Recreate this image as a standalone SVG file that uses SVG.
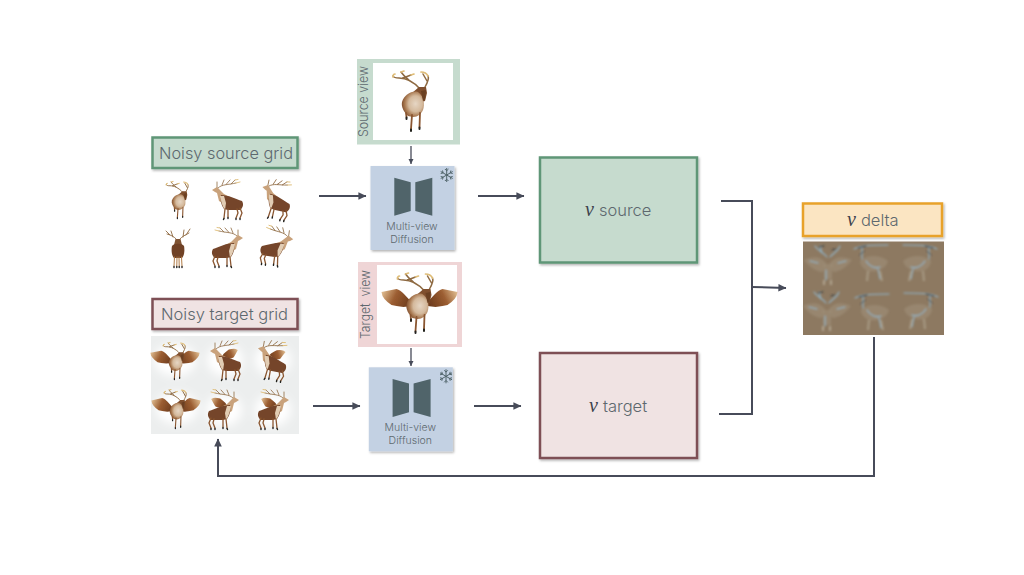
<svg xmlns="http://www.w3.org/2000/svg" width="1024" height="575" viewBox="0 0 1024 575">
<style>
text{font-family:Inter,"Liberation Sans",sans-serif;font-weight:300;fill:#5d686e}
.lbl{font-size:16.500px}
.small{font-size:10.500px;text-anchor:middle}
.side{font-size:13.500px;white-space:pre}
.v{font-family:"Liberation Serif","DejaVu Serif",serif;font-style:italic;font-weight:400;font-size:20px;fill:#3d424c}
.grn{fill:#c6dbce;stroke:#5f9677;stroke-width:2.500}
.pnk{fill:#f0e3e3;stroke:#7e5055;stroke-width:2.500}
.org{fill:#fbe5c2;stroke:#e8a22c;stroke-width:2.500}
.sh{filter:url(#shadow)}
.conn{fill:none;stroke:#474b59;stroke-width:2}
.thin{fill:none;stroke:#474b59;stroke-width:1.300}
.ant{fill:none;stroke:#8e6a42;stroke-width:1.500;stroke-linecap:round}
.tip{fill:none;stroke:#dfbd78;stroke-width:1.700;stroke-linecap:round}
.leg{fill:none;stroke:#8a5630;stroke-width:1.800;stroke-linecap:round}
.hoof{fill:none;stroke:#22201e;stroke-width:2;stroke-linecap:round}
.mv{fill:#c3d1e3}
.trap{fill:#50646a}
.flake{fill:none;stroke:#50646a;stroke-width:1}
.gh{fill:#a89a84;opacity:.4}
.gs{fill:none;stroke:#8fc0de;stroke-width:1.100;stroke-linecap:round;opacity:.85}
.gd{fill:none;stroke:#2a333c;stroke-width:1;stroke-linecap:round}
</style>
<defs>
<filter id="shadow" x="-10%" y="-10%" width="125%" height="125%"><feDropShadow dx="1.200" dy="1.500" stdDeviation="1" flood-color="#000" flood-opacity=".3"/></filter>
<filter id="soft" x="-10%" y="-10%" width="120%" height="120%"><feGaussianBlur stdDeviation=".35"/></filter>
<filter id="halo" x="-30%" y="-30%" width="160%" height="160%"><feGaussianBlur stdDeviation="5"/></filter>
<filter id="ghostblur" x="-10%" y="-10%" width="120%" height="120%"><feGaussianBlur stdDeviation=".9"/></filter>
<marker id="ah" markerWidth="5" markerHeight="5" refX="3.800" refY="1.900" orient="auto" markerUnits="strokeWidth"><path d="M0,0L4,1.900L0,3.800Z" fill="#474b59"/></marker>
<marker id="ahs" markerWidth="6" markerHeight="6" refX="4" refY="2" orient="auto" markerUnits="strokeWidth"><path d="M0,0L4,2L0,4Z" fill="#474b59"/></marker>
<linearGradient id="wingL" x1="1" y1=".6" x2="0" y2=".3"><stop offset="0" stop-color="#6f3d1f"/><stop offset=".55" stop-color="#9b5d31"/><stop offset="1" stop-color="#dcb88c"/></linearGradient>
<radialGradient id="bodyF" cx=".62" cy=".48" r=".62"><stop offset="0" stop-color="#e6d6c4"/><stop offset=".5" stop-color="#d4b99c"/><stop offset=".78" stop-color="#a97a52"/><stop offset="1" stop-color="#81502f"/></radialGradient>
<path id="wing" d="M0,0C-5,-5 -10,-12 -15,-13C-20,-12 -25,-11 -30,-10L-29,-6L-27,-3L-24,0L-20,3L-15,4L-8,5L0,4Z" fill="url(#wingL)"/>
<g id="hero">
<path class="ant" d="M45,26C38,18 30,15 24,15C21,15 19,15 18,13M34,17C30,14 28,12 26,9M28,15L36,12M50,24C54,17 54,15 53,13M52,18L48,11"/>
<path class="tip" d="M18,14C18,12 19,11 20,11M26,9L29,8M36,12L39,11M53,13C52,11 50,9 46,9"/>
<path d="M37,30L44,24L51,24L52,30L50,38L47,39L44,41L38,37Z" fill="#7f4f2e"/>
<path d="M27,39C29,32 37,27 43,29C49,33 50,41 48,47C46,51 43,54 38,54L33,53C29,49 26,44 27,39Z" fill="url(#bodyF)"/>
<path d="M46,28L51,27L50,37L48,38Z" fill="#6a3f23"/>
<path class="leg" d="M31,50L31.500,54M37,52L36,66M45,50L44.500,64"/>
<path class="hoof" d="M31.500,54.500V56M36,66.500V68M44.500,64.500V66"/>
</g>
<g id="front"><use href="#hero" transform="scale(.62) translate(-37,-38)"/></g>
<g id="back">
<path class="ant" style="stroke-width:.9" d="M-1,-8C-4,-12 -8,-13 -11,-14M-5,-11L-7,-17M-8,-13L-12,-17M1,-8C4,-12 8,-13 11,-15M5,-11L6,-18M8,-13L12,-19"/>
<path d="M-2.500,-9L2.500,-9L4,-3L-4,-3Z" fill="#7f5232"/>
<path d="M-6,-2C-4,-5 4,-5 6,-2C7,3 6,8 4,10L-4,10C-6,8 -7,3 -6,-2Z" fill="#6f4227"/>
<path class="leg" d="M-3.500,9L-4,18M-1,9L-1.200,18M1,9L1.200,18M3.500,9L4,18" style="stroke-width:1;stroke:#b07a45"/>
<path class="hoof" style="stroke-width:1.400" d="M-4,18.400L-4,19.600M-1.200,18.400V19.600M1.200,18.400V19.600M4,18.400L4,19.600"/>
</g>
<g id="side">
<path class="ant" d="M-10,-12C-6,-16 0,-15 8,-17M-6,-15L-4,-20M-2,-15.500L2,-20M3,-16L7,-20M-11,-12L-11,-18" style="stroke-width:.8"/>
<path class="tip" d="M8,-17L12,-18M7,-20L10,-20.500" style="stroke-width:.9"/>
<path d="M-16,-10L-11,-13L-9,-11L-4,-6L2,-3L-4,4L-9,1L-11,-7L-13,-8Z" fill="#c9a27b"/>
<path d="M-7,-5C0,-5 8,-1 14,1C16,4 15,8 12,10L0,10L-4,9C-7,5 -8,0 -7,-5Z" fill="#74452a"/>
<path d="M-8,-4C-7,1 -6,6 -3,10L-2,3L-4,-4Z" fill="#e2cdb4"/>
<path class="leg" d="M-3,9L-4,18M0,9L0,17M12,8L14,13L12,18M9,9L10,13L8,18" style="stroke-width:1.300"/>
<path class="hoof" style="stroke-width:1.400" d="M-4,18.400L-4.500,19.500M0,17.400L0,18.500M12,18.400L12,19.500M8,18.400L8,19.500"/>
</g>
<g id="wfront"><use href="#wing" transform="translate(-3,-1) scale(.72)"/><use href="#wing" transform="translate(3,-1) scale(-.72,.72)"/><use href="#front"/></g>
<g id="wside"><use href="#wing" transform="translate(-3,-2) rotate(130) scale(.55)"/><use href="#side"/></g>
<g id="ghost">
<path class="gh" d="M-2,-3C-9,-11 -16,-9 -24,-6C-20,-1 -13,6 -5,6ZM2,-3C9,-11 16,-9 24,-6C20,-1 13,6 5,6Z"/>
<path class="gh" d="M-4,-2L4,-2L4,13L-4,13Z"/>
<path class="gs" d="M-1,-9C-5,-14 -10,-15 -13,-20M-6,-13L-8,-20M2,-9C6,-14 10,-14 12,-20M-10,-3L-18,-5M10,-3L18,-5M-2,4L-2,14"/>
<path class="gd" d="M-9,-19L-4,-20M4,-16L8,-17"/>
<path d="M-4,14L-4,19M3,14L3,19" stroke="#c7c0ae" stroke-width="2" fill="none" opacity=".6"/>
</g>
<g id="ghosts">
<path class="gh" d="M-12,-2C-4,-9 8,-8 16,-2C14,6 4,10 -4,8C-9,6 -12,2 -12,-2Z"/>
<path class="gs" d="M-18,-14C-10,-18 2,-18 16,-18M-10,-16L-10,-4M-6,-2C-2,4 2,6 8,4M6,6L8,16"/>
<path class="gd" d="M-14,-15L-6,-17M-8,-12L-12,-8"/>
<path d="M-4,8L-5,18M8,8L10,18" stroke="#b9b09c" stroke-width="2" fill="none" opacity=".6"/>
</g>
<g id="flake" class="flake"><path d="M0,-7V7M-6,-3.500L6,3.500M-6,3.500L6,-3.500M-1.800,-6L0,-4.200L1.800,-6M-1.800,6L0,4.200L1.800,6M-6,-1.500L-3.600,-2.100L-4.200,-4.500M6,1.500L3.600,2.100L4.200,4.500M-6,1.500L-3.600,2.100L-4.200,4.500M6,-1.500L3.600,-2.100L4.200,-4.500"/></g>
</defs>

<g id="connectors">
<path class="conn" marker-end="url(#ah)" d="M319,196H366"/>
<path class="conn" marker-end="url(#ah)" d="M478,196H524"/>
<path class="conn" marker-end="url(#ah)" d="M313,406H360"/>
<path class="conn" marker-end="url(#ah)" d="M474,406H521"/>
<path class="thin" marker-end="url(#ahs)" d="M411,146V164"/>
<path class="thin" marker-end="url(#ahs)" d="M411,348V366"/>
<path class="conn" d="M721,201H752V414H719"/>
<path class="conn" marker-end="url(#ah)" d="M752,287L786,288"/>
<path class="conn" marker-end="url(#ah)" d="M874,337V476H218V439"/>
</g>

<g id="noisy-source-label"><rect class="grn sh" x="152.500" y="137.500" width="145" height="30.500"/><text class="lbl" x="159" y="159" textLength="134" lengthAdjust="spacingAndGlyphs">Noisy source grid</text></g>
<g id="noisy-source-grid" filter="url(#soft)">
<use href="#front" transform="translate(178,200)"/>
<use href="#side" transform="translate(228,200)"/>
<use href="#side" transform="translate(276,200) rotate(12)"/>
<use href="#back" transform="translate(178,248)"/>
<use href="#side" transform="translate(227,248) scale(-1,1)"/>
<use href="#side" transform="translate(276,247) scale(-1,1) rotate(-8)"/>
</g>

<g id="noisy-target-label"><rect class="pnk sh" x="152.500" y="299" width="145" height="30"/><text class="lbl" x="161" y="320" textLength="127" lengthAdjust="spacingAndGlyphs">Noisy target grid</text></g>
<g id="noisy-target-grid">
<rect x="151" y="336" width="148" height="98" fill="#eceeee"/>
<g fill="#fff" filter="url(#halo)"><ellipse cx="175" cy="360" rx="21" ry="16"/><ellipse cx="225" cy="360" rx="18" ry="16"/><ellipse cx="273" cy="360" rx="18" ry="16"/><ellipse cx="177" cy="408" rx="21" ry="16"/><ellipse cx="224" cy="410" rx="18" ry="16"/><ellipse cx="273" cy="410" rx="18" ry="16"/></g>
<g filter="url(#soft)">
<use href="#wfront" transform="translate(175,361)"/>
<use href="#wside" transform="translate(226,361)"/>
<use href="#wside" transform="translate(272,361) rotate(10)"/>
<use href="#wfront" transform="translate(176,409) scale(1,1.050)"/>
<use href="#wside" transform="translate(223,410) scale(-1,1)"/>
<use href="#wside" transform="translate(273,410) scale(-1,1)"/>
</g>
</g>

<g id="source-view">
<rect x="357" y="59" width="103" height="85.500" fill="#c6dbce"/>
<rect x="373" y="63" width="80" height="77" fill="#fff"/>
<text class="side" transform="translate(368,137) rotate(-90)" textLength="71" lengthAdjust="spacingAndGlyphs">Source view</text>
<use href="#hero" transform="translate(375,63)" filter="url(#soft)"/>
</g>
<g id="target-view">
<rect x="358" y="262" width="104" height="85" fill="#efd5d6"/>
<rect x="377" y="265" width="80" height="79" fill="#fff"/>
<text class="side" transform="translate(370,339) rotate(-90)" textLength="69" lengthAdjust="spacingAndGlyphs">Target  view</text>
<g transform="translate(379.500,265)" filter="url(#soft)">
<use href="#wing" transform="translate(32,37)"/>
<use href="#wing" transform="translate(48,37) scale(-1,1)"/>
<use href="#hero"/>
</g>
</g>

<g id="mv-source">
<rect class="mv sh" x="370.500" y="166" width="84" height="84"/>
<path class="trap" d="M394.300,177.700L410.700,182.300V211L394.300,215.700ZM415.300,182.300L432.300,177.700V215.700L415.300,211Z"/>
<text class="small" x="412" y="230">Multi-view</text><text class="small" x="412" y="243">Diffusion</text>
<use href="#flake" transform="translate(446.700,175)"/>
</g>
<g id="mv-target" transform="translate(-1.700,201.300)">
<rect class="mv sh" x="370.500" y="166" width="84" height="84"/>
<path class="trap" d="M394.300,177.700L410.700,182.300V211L394.300,215.700ZM415.300,182.300L432.300,177.700V215.700L415.300,211Z"/>
<text class="small" x="412" y="230">Multi-view</text><text class="small" x="412" y="243">Diffusion</text>
<use href="#flake" transform="translate(447.700,175)"/>
</g>

<g id="v-source"><rect class="grn sh" x="540" y="157.500" width="157" height="105"/><text x="585" y="216"><tspan class="v">v</tspan><tspan class="lbl" dx="5">source</tspan></text></g>
<g id="v-target"><rect class="pnk sh" x="540" y="353" width="157" height="105"/><text x="589" y="412"><tspan class="v">v</tspan><tspan class="lbl" dx="5">target</tspan></text></g>
<g id="v-delta"><rect class="org sh" x="803" y="203.500" width="139" height="32.500"/><text x="847" y="226"><tspan class="v">v</tspan><tspan class="lbl" dx="5">delta</tspan></text></g>
<g id="delta-image">
<rect x="803" y="241.500" width="141" height="93.500" fill="#8d7961"/>
<g filter="url(#ghostblur)">
<use href="#ghost" transform="translate(828,266)"/>
<use href="#ghosts" transform="translate(872,263)"/>
<use href="#ghosts" transform="translate(919,263) scale(-1,1)"/>
<use href="#ghost" transform="translate(827,312)"/>
<use href="#ghosts" transform="translate(873,312)"/>
<use href="#ghosts" transform="translate(920,311) scale(-1,1)"/>
</g>
</g>
</svg>
